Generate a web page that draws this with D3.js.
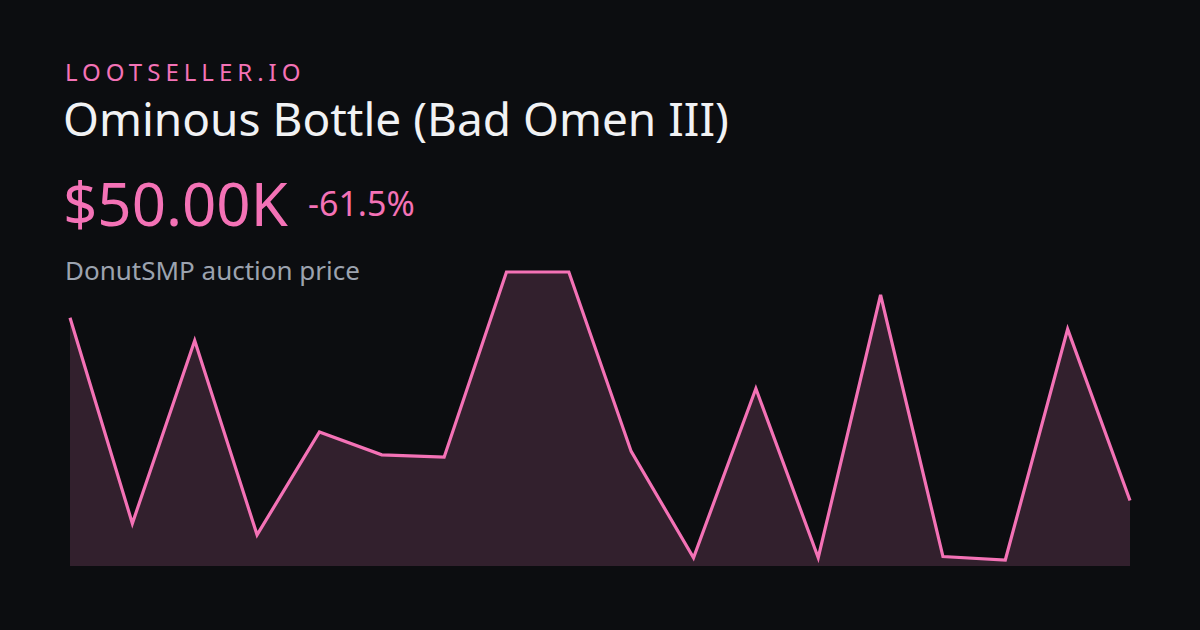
<!DOCTYPE html>
<html><head><meta charset="utf-8">
<script src="https://cdn.jsdelivr.net/npm/d3@7"></script>
<style>
html,body{margin:0;padding:0;background:#0c0d10;}
svg{display:block;}
text{font-family:"Noto Sans","Open Sans",sans-serif;}
</style></head>
<body>
<svg id="chart" width="1200" height="630"></svg>
<script>
const brand = "LOOTSELLER.IO";
const title = "Ominous Bottle (Bad Omen III)";
const priceLabel = "$50.00K";
const changeLabel = "-61.5%";
const subtitle = "DonutSMP auction price";
// price history in thousands of $
const points = [0,1,2,3,4,5,6,7,8,9,10,11,12,13,14,15,16,17];
const prices = [130, 40, 120, 35, 80, 70, 69, 150, 150, 71.5, 25, 99, 25, 140, 25.5, 24, 125, 50];

const svg = d3.select("#chart");
svg.append("rect").attr("width",1200).attr("height",630).attr("fill","#0c0d10");

svg.append("text").attr("x",65).attr("y",80.5).attr("fill","#f472b6")
  .attr("font-size",24).attr("letter-spacing","5px").text(brand);
svg.append("text").attr("x",63).attr("y",136).attr("fill","#f1f2f4")
  .attr("font-size",46).text(title);
svg.append("text").attr("x",63).attr("y",225.5).attr("fill","#f472b6")
  .attr("font-size",60).text(priceLabel);
svg.append("text").attr("x",308).attr("y",215.5).attr("fill","#f472b6")
  .attr("font-size",34).text(changeLabel);
svg.append("text").attr("x",65).attr("y",280).attr("fill","#9ca3af")
  .attr("font-size",26).text(subtitle);

const x = d3.scaleLinear().domain(d3.extent(points)).range([70,1130]);
const y = d3.scaleLinear().domain(d3.extent(prices)).range([560,272]);
const base = 566;
const data = points.map((p,i)=>({p, v:prices[i]}));

svg.append("path").datum(data)
  .attr("fill","#32202d")
  .attr("d", d3.area().x(d=>x(d.p)).y0(base).y1(d=>y(d.v)));
svg.append("path").datum(data)
  .attr("fill","none").attr("stroke","#f472b6").attr("stroke-width",3.2)
  .attr("stroke-linejoin","miter")
  .attr("d", d3.line().x(d=>x(d.p)).y(d=>y(d.v)));
</script>
</body></html>
